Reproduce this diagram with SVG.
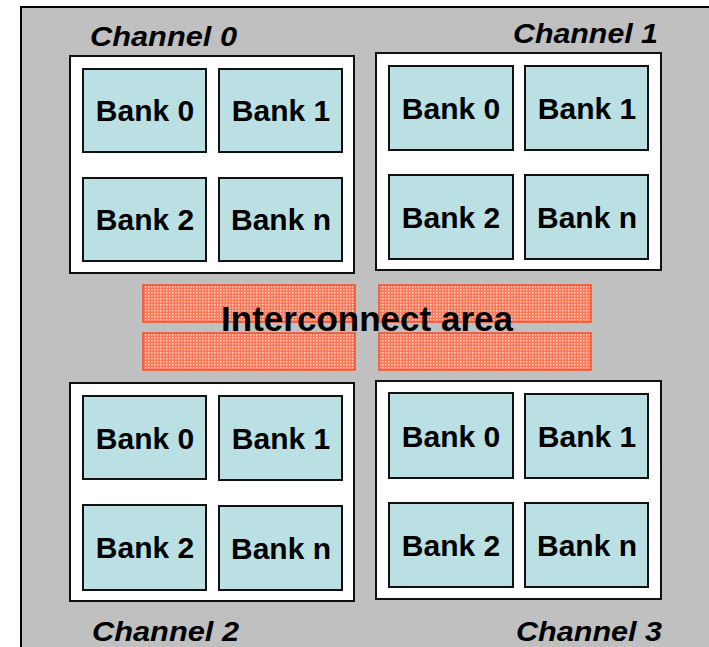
<svg xmlns="http://www.w3.org/2000/svg" width="709" height="647" viewBox="0 0 709 647">
<style>
.ch{fill:#ffffff;stroke:#111111;stroke-width:2}
.bk{fill:#bbe0e3;stroke:#111111;stroke-width:2}
.bt{font-family:"Liberation Sans",Arial,sans-serif;font-weight:bold;font-size:30px;fill:#000;text-anchor:middle}
.cl{font-family:"Liberation Sans",Arial,sans-serif;font-weight:bold;font-style:italic;font-size:27px;fill:#000}
.ic{fill:url(#dots);stroke:#ff4a26;stroke-width:1.5}
</style>
<defs>
<pattern id="dots" width="3" height="3" patternUnits="userSpaceOnUse">
<rect width="3" height="3" fill="#ff7757"/>
<rect x="1" y="1" width="1.5" height="1.5" fill="#ffd2c4"/>
</pattern>
</defs>
<rect x="21" y="7" width="700" height="660" fill="#c0c0c0" stroke="#000" stroke-width="2"/>
<g id="interconnect">
<rect class="ic" x="143" y="285" width="212" height="37"/>
<rect class="ic" x="379" y="285" width="212" height="37"/>
<rect class="ic" x="143" y="333" width="212" height="37"/>
<rect class="ic" x="379" y="333" width="212" height="37"/>
<text x="367" y="331" font-family="Liberation Sans,Arial,sans-serif" font-weight="bold" font-size="35" text-anchor="middle" textLength="292" lengthAdjust="spacingAndGlyphs">Interconnect area</text>
</g>
<g id="channel0">
<text class="cl" x="90" y="46" textLength="147" lengthAdjust="spacingAndGlyphs">Channel 0</text>
<rect class="ch" x="70" y="56" width="284" height="217"/>
<g id="c0b0"><rect class="bk" x="83" y="69" width="123" height="83"/><text class="bt" x="145" y="121">Bank 0</text></g>
<g id="c0b1"><rect class="bk" x="219" y="69" width="123" height="83"/><text class="bt" x="281" y="121">Bank 1</text></g>
<g id="c0b2"><rect class="bk" x="83" y="178" width="123" height="83"/><text class="bt" x="145" y="230">Bank 2</text></g>
<g id="c0bn"><rect class="bk" x="219" y="178" width="123" height="83"/><text class="bt" x="281" y="230">Bank n</text></g>
</g>
<g id="channel1">
<text class="cl" x="513" y="43" textLength="145" lengthAdjust="spacingAndGlyphs">Channel 1</text>
<rect class="ch" x="376" y="53" width="285" height="217"/>
<g id="c1b0"><rect class="bk" x="389" y="66" width="124" height="84"/><text class="bt" x="451" y="119">Bank 0</text></g>
<g id="c1b1"><rect class="bk" x="525" y="66" width="123" height="84"/><text class="bt" x="587" y="119">Bank 1</text></g>
<g id="c1b2"><rect class="bk" x="389" y="175" width="124" height="84"/><text class="bt" x="451" y="228">Bank 2</text></g>
<g id="c1bn"><rect class="bk" x="525" y="175" width="123" height="84"/><text class="bt" x="587" y="228">Bank n</text></g>
</g>
<g id="channel2">
<rect class="ch" x="70" y="383" width="284" height="218"/>
<g id="c2b0"><rect class="bk" x="83" y="396" width="123" height="83"/><text class="bt" x="145" y="449">Bank 0</text></g>
<g id="c2b1"><rect class="bk" x="219" y="396" width="123" height="84"/><text class="bt" x="281" y="449">Bank 1</text></g>
<g id="c2b2"><rect class="bk" x="83" y="505" width="123" height="85"/><text class="bt" x="145" y="558">Bank 2</text></g>
<g id="c2bn"><rect class="bk" x="219" y="506" width="123" height="84"/><text class="bt" x="281" y="559">Bank n</text></g>
<text class="cl" x="92" y="641" textLength="147" lengthAdjust="spacingAndGlyphs">Channel 2</text>
</g>
<g id="channel3">
<rect class="ch" x="376" y="381" width="285" height="218"/>
<g id="c3b0"><rect class="bk" x="389" y="393" width="124" height="85"/><text class="bt" x="451" y="447">Bank 0</text></g>
<g id="c3b1"><rect class="bk" x="525" y="394" width="123" height="84"/><text class="bt" x="587" y="447">Bank 1</text></g>
<g id="c3b2"><rect class="bk" x="389" y="503" width="124" height="84"/><text class="bt" x="451" y="556">Bank 2</text></g>
<g id="c3bn"><rect class="bk" x="525" y="503" width="123" height="84"/><text class="bt" x="587" y="556">Bank n</text></g>
<text class="cl" x="516" y="641" textLength="146" lengthAdjust="spacingAndGlyphs">Channel 3</text>
</g>
<g id="connectors"></g>
</svg>
